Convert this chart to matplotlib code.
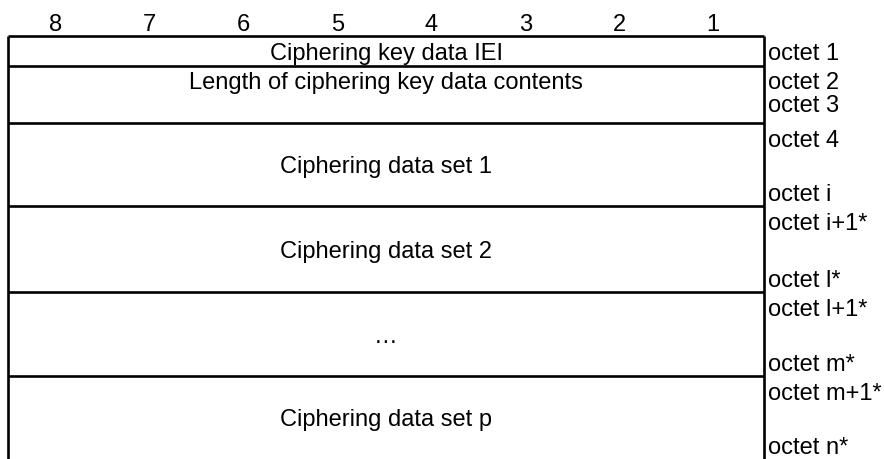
import matplotlib.pyplot as plt

# bit numbers across the top of the table
bits = [8, 7, 6, 5, 4, 3, 2, 1]

# field name shown in each row of the table
fields = [
    "Ciphering key data IEI",
    "Length of ciphering key data contents",
    "Ciphering data set 1",
    "Ciphering data set 2",
    "\u2026",
    "Ciphering data set p",
]

# octet labels on the right of each row
octets = [
    ["octet 1"],
    ["octet 2", "octet 3"],
    ["octet 4", "octet i"],
    ["octet i+1*", "octet l*"],
    ["octet l+1*", "octet m*"],
    ["octet m+1*", "octet n*"],
]

W, H = 884, 460
fig = plt.figure(figsize=(W / 100, H / 100), dpi=100)
ax = fig.add_axes([0, 0, 1, 1])
ax.set_xlim(0, W)
ax.set_ylim(H, 0)
ax.axis("off")

plt.rcParams["font.family"] = ["Liberation Sans", "DejaVu Sans"]
fs = 17
lw = 1.9
dy = 2  # small downward nudge for text

left, right = 8, 764
col_w = (right - left) / len(bits)
row_edges = [37, 67, 124, 207, 293, 377, 460]

# bit header
for i, b in enumerate(bits):
    ax.text(left + col_w * (i + 0.5) - i * 0.5, 23 + dy, str(b), ha="center", va="center", fontsize=fs)

# frame: vertical sides run to the bottom, horizontal rules between rows
ax.plot([left, left], [row_edges[0], H], color="black", lw=lw, solid_capstyle="butt")
ax.plot([right, right], [row_edges[0], H], color="black", lw=lw, solid_capstyle="butt")
for y in row_edges[:-1]:
    ax.plot([left, right], [y, y], color="black", lw=lw, solid_capstyle="butt")

for r, (name, labs) in enumerate(zip(fields, octets)):
    top, bot = row_edges[r], row_edges[r + 1]
    if len(labs) == 1:
        ax.text((left + right) / 2, (top + bot) / 2 + dy, name, ha="center", va="center", fontsize=fs)
        ax.text(right + 4, (top + bot) / 2 + dy, labs[0], ha="left", va="center", fontsize=fs)
        continue
    if r == 1:
        ax.text((left + right) / 2, top + 14 + dy, name, ha="center", va="center", fontsize=fs)
        ys = [top + 14, top + 37]
    else:
        ax.text((left + right) / 2, (top + bot) / 2 + dy, name, ha="center", va="center", fontsize=fs)
        ys = [top + 15, bot - 14]
    for lab, y in zip(labs, ys):
        ax.text(right + 4, y + dy, lab, ha="left", va="center", fontsize=fs)

fig.savefig("out.png", dpi=100)
